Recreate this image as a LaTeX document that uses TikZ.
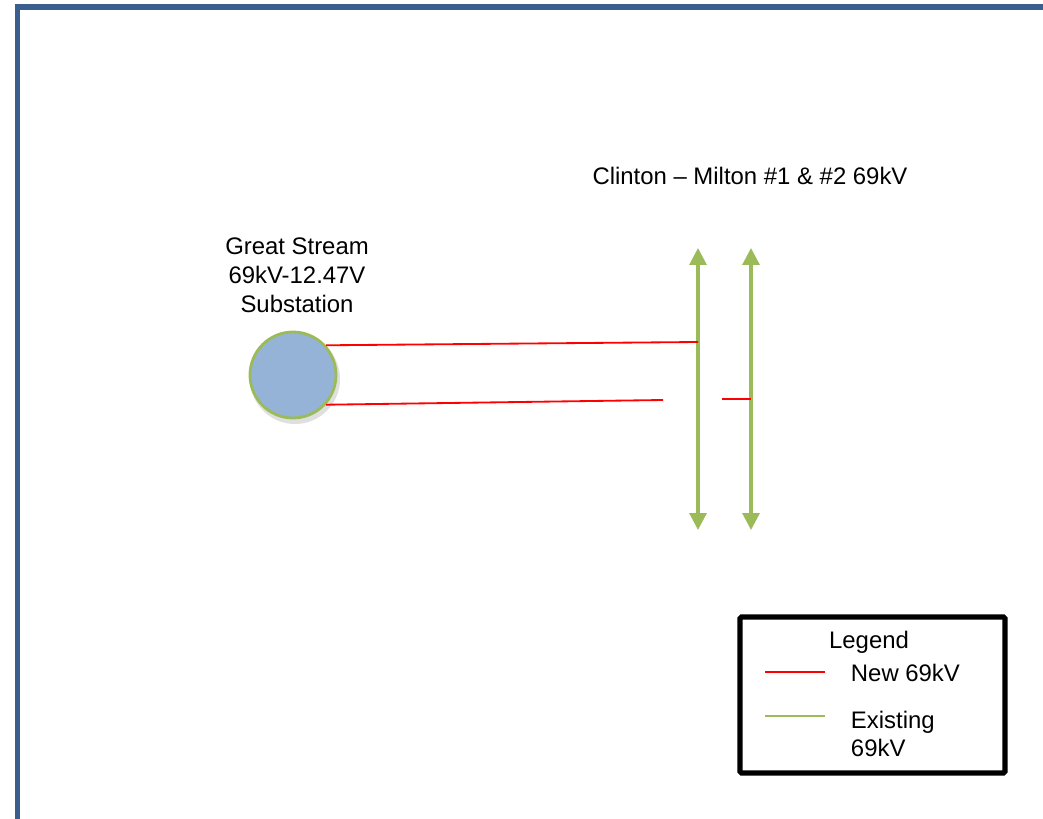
\documentclass[tikz,border=0pt]{standalone}
\usepackage{fontspec}
\setmainfont{Liberation Sans}
\usetikzlibrary{arrows.meta}
\definecolor{framebl}{HTML}{3A5F8F}
\definecolor{subfill}{HTML}{95B3D7}
\definecolor{existgr}{HTML}{9BBB59}
\definecolor{newred}{HTML}{FF0000}
\tikzset{
  lbl/.style={font=\fontsize{17}{20.5}\selectfont, align=center},
  newline/.style={draw=newred, line width=1.3pt},
  oldline/.style={draw=existgr, line width=2.2pt},
  oldtip/.style={oldline, {Triangle[width=12pt,length=12pt]}-{Triangle[width=12pt,length=12pt]}}
}
\begin{document}
\begin{tikzpicture}[x=0.025cm, y=-0.025cm]
            \useasboundingbox (0, 0) rectangle (1043, 819);
            \draw[framebl, line width=3.6pt] (17.5, 830) -- (17.5, 7) -- (1050, 7);

            % substation
            \fill[black!25, opacity=0.5] (295, 379) circle (45);
            \node[circle, minimum size=86*0.025cm, inner sep=0pt, fill=subfill,
                  draw=existgr, line width=2pt] (sub) at (293, 375) {};
            \node[lbl] (subname) at (297, 275) {Great Stream\\69kV-12.47V\\Substation};

            % existing lines
            \coordinate (l1top) at (698, 248);
            \coordinate (l1bot) at (698, 530);
            \coordinate (l2top) at (751, 248);
            \coordinate (l2bot) at (751, 530);
            \draw[oldtip] (l1bot) -- (l1top);
            \draw[oldtip] (l2bot) -- (l2top);
            \node[lbl] (linename) at (750, 176) {Clinton -- Milton \#1 \& \#2 69kV};

            % new lines
            \coordinate (tap1) at (698, 342);
            \coordinate (gap1) at (663, 400);
            \coordinate (gap2) at (722, 399);
            \coordinate (tap2) at (751, 399);
            \draw[newline] (sub.42) -- (tap1);
            \draw[newline] (sub.-42) -- (gap1);
            \draw[newline] (gap2) -- (tap2);

            % legend
            \draw[line width=3.6pt, rounded corners=1pt] (740, 617) rectangle (1005, 773);
            \node[lbl] (legend) at (869, 642) {Legend};
            \draw[newline] (765, 672) -- (825, 672);
            \node[lbl, anchor=west] (newlbl) at (846, 673) {New 69kV};
            \draw[oldline, line width=1.6pt] (765, 716) -- (825, 716);
            \node[lbl, anchor=west, align=left] (oldlbl) at (846, 734) {Existing\\69kV};
        \end{tikzpicture}
\end{document}
